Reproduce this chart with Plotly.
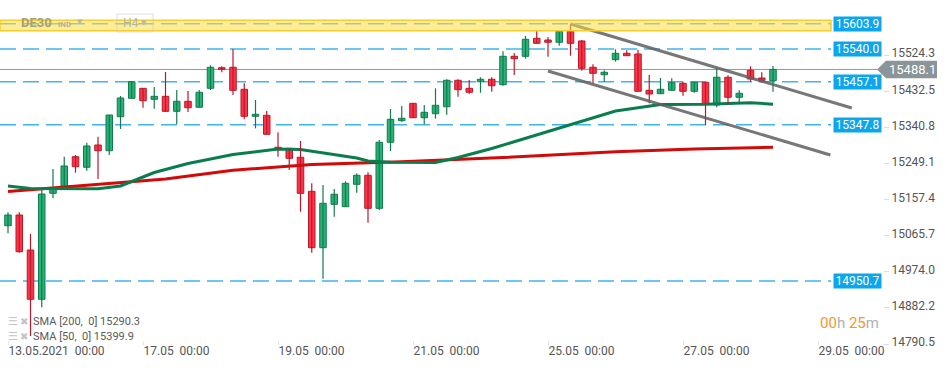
import plotly.graph_objects as go

# ---------------- data ----------------
tick_idx = [0, 12, 24, 36, 48, 60, 72]
tick_labels = ["13.05.2021  00:00", "17.05  00:00", "19.05  00:00", "21.05  00:00",
               "25.05  00:00", "27.05  00:00", "29.05  00:00"]

open_ = [15091.2, 15118.4, 15029.5, 14904.3, 15173.5, 15190.3, 15266.5, 15239.6, 15296.2, 15281.7,
         15368.1, 15414.8, 15440.2, 15412.3, 15419.9, 15381.8, 15407.2, 15392.0, 15440.2, 15492.5,
         15493.6, 15437.7, 15369.1, 15371.6, 15290.4, 15287.8, 15265.0, 15178.6, 15035.3, 15145.6,
         15139.5, 15196.4, 15219.2, 15135.4, 15303.1, 15357.9, 15402.1, 15365.5, 15375.7, 15393.5,
         15460.5, 15440.2, 15457.0, 15463.1, 15449.4, 15521.5, 15521.5, 15567.2, 15562.9, 15557.1,
         15585.0, 15560.4, 15493.6, 15474.8, 15512.9, 15529.1, 15527.3, 15435.1, 15426.5, 15435.1,
         15452.9, 15432.6, 15455.5, 15397.8, 15468.2, 15417.4, 15485.9, 15466.4, 15459.5]
high = [15125.3, 15125.3, 15070.1, 15181.9, 15235.2, 15266.5, 15270.8, 15302.0, 15317.3, 15372.4,
        15420.7, 15458.8, 15440.2, 15443.5, 15481.6, 15435.9, 15433.4, 15435.9, 15498.6, 15496.1,
        15540.0, 15452.9, 15410.5, 15382.6, 15328.5, 15287.8, 15306.4, 15198.9, 15194.6, 15184.4,
        15204.0, 15224.3, 15226.9, 15308.9, 15387.6, 15395.3, 15402.1, 15397.8, 15440.2, 15463.1,
        15463.1, 15461.3, 15468.2, 15468.2, 15534.2, 15529.9, 15573.1, 15586.5, 15570.5, 15585.0,
        15603.9, 15562.9, 15501.2, 15485.9, 15539.3, 15536.7, 15538.3, 15474.0, 15466.4, 15465.6,
        15457.0, 15457.0, 15455.5, 15491.0, 15473.2, 15435.1, 15496.1, 15480.9, 15496.9]
low = [15071.9, 15022.6, 14811.1, 14884.0, 15160.8, 15190.3, 15225.8, 15230.9, 15209.8, 15270.8,
       15336.8, 15414.8, 15390.9, 15388.4, 15380.0, 15349.5, 15380.0, 15392.0, 15435.9, 15480.9,
       15423.2, 15361.5, 15338.6, 15323.4, 15266.5, 15232.7, 15126.8, 15022.6, 14956.6, 15114.1,
       15139.5, 15175.0, 15098.8, 15131.1, 15281.0, 15355.4, 15365.5, 15348.8, 15363.0, 15373.2,
       15418.9, 15426.5, 15429.0, 15431.6, 15446.8, 15474.0, 15515.4, 15554.5, 15520.5, 15548.4,
       15523.0, 15484.9, 15453.7, 15457.0, 15507.8, 15523.0, 15432.6, 15402.1, 15426.5, 15435.1,
       15421.4, 15429.0, 15347.0, 15392.0, 15397.8, 15404.7, 15457.0, 15457.0, 15431.6]
close = [15118.4, 15025.2, 14904.3, 15171.7, 15186.2, 15242.9, 15241.1, 15293.7, 15281.7, 15372.4,
         15415.6, 15457.0, 15408.7, 15419.9, 15381.8, 15407.2, 15390.9, 15430.1, 15493.6, 15488.5,
         15435.1, 15369.1, 15374.2, 15323.4, 15285.3, 15262.4, 15173.5, 15035.3, 15148.1, 15171.0,
         15198.9, 15219.2, 15135.4, 15303.1, 15361.5, 15364.0, 15365.5, 15379.3, 15397.0, 15460.5,
         15436.7, 15430.1, 15463.1, 15446.8, 15521.5, 15515.4, 15564.7, 15554.5, 15557.1, 15585.0,
         15554.5, 15491.0, 15478.3, 15480.9, 15529.1, 15523.0, 15432.6, 15425.7, 15437.7, 15454.4,
         15432.6, 15455.5, 15399.6, 15468.2, 15417.4, 15427.5, 15463.8, 15460.5, 15488.1]

sma200_x = [0, 8, 14, 20, 27, 35, 44, 54, 61, 68]
sma200_y = [15178.1, 15197.1, 15209.8, 15231.9, 15246.7, 15253.8, 15264.4, 15278.9, 15286.0, 15290.3]
sma50_x = [0, 2, 8, 10, 13, 16, 20, 24, 26, 28, 31, 32, 34, 38, 40, 43, 47, 50, 54, 58, 62, 66, 68]
sma50_y = [15192.1, 15185.7, 15185.2, 15192.1, 15226.3, 15249.2, 15272.1, 15286.0, 15284.8, 15275.9,
           15263.2, 15255.6, 15252.3, 15251.7, 15264.4, 15287.3, 15321.6, 15348.3, 15382.6, 15399.1,
           15399.6, 15403.6, 15399.9]

channel_upper_x = [50, 75]
channel_upper_y = [15603.5, 15390.1]
channel_lower_x = [48, 73.1]
channel_lower_y = [15484.1, 15270.8]

price_ticks = [15524.3, 15432.5, 15340.8, 15249.1, 15157.4, 15065.7, 14974.0, 14882.2, 14790.5]
levels = [15603.9, 15540.0, 15457.1, 15347.8, 14950.7]
zone = [15586.6, 15612.9]
last_price = 15488.1
sma_legend = [("SMA [200,  0]", 15290.3), ("SMA [50,  0]", 15399.9)]

# ---------------- geometry / style ----------------
W, H = 950, 368
PR, PB = 883, 345            # plot area right / bottom in px
Y_RANGE = [14788.2, 15664.5]
X_RANGE = [-8 / 11.25, 875 / 11.25]
FONT = "Roboto"
UP_FILL, UP_LINE = "#27B277", "#137A4D"
DN_FILL, DN_LINE = "#FF3347", "#B8192A"
BLUE = "#3FB4EF"
LBL_BLUE = "#0BA6EE"


def px(x):
    return x / PR


def py(y):
    return 1 - y / PB


n = len(open_)
idx = list(range(n))
up = [close[i] >= open_[i] for i in idx]

fig = go.Figure()

# SMA lines
fig.add_trace(go.Scatter(x=sma200_x, y=sma200_y, mode="lines",
                         line=dict(color="#D10A0A", width=3), hoverinfo="skip"))
fig.add_trace(go.Scatter(x=sma50_x, y=sma50_y, mode="lines",
                         line=dict(color="#0A7D4E", width=3), hoverinfo="skip"))

# wicks
for is_up, col in ((True, UP_LINE), (False, DN_LINE)):
    wx, wy = [], []
    for i in idx:
        if up[i] == is_up:
            wx += [i, i, None]
            wy += [low[i], high[i], None]
    fig.add_trace(go.Scatter(x=wx, y=wy, mode="lines", line=dict(color=col, width=1.2),
                             hoverinfo="skip"))

# bodies
fig.add_trace(go.Bar(
    x=idx,
    y=[abs(close[i] - open_[i]) for i in idx],
    base=[min(close[i], open_[i]) for i in idx],
    width=0.58,
    marker=dict(color=[UP_FILL if u else DN_FILL for u in up],
                line=dict(color=[UP_LINE if u else DN_LINE for u in up], width=1)),
    hoverinfo="skip"))

# channel lines
for cx, cy in ((channel_upper_x, channel_upper_y), (channel_lower_x, channel_lower_y)):
    fig.add_trace(go.Scatter(x=cx, y=cy, mode="lines",
                             line=dict(color="rgba(95,95,95,0.85)", width=3), hoverinfo="skip"))

shapes = []
# last price line
shapes.append(dict(type="line", xref="paper", yref="y", x0=0, x1=px(877), y0=last_price, y1=last_price,
                   line=dict(color="#8E979B", width=1), layer="below"))
# level lines
for k, lv in enumerate(levels):
    shapes.append(dict(type="line", xref="paper", yref="y", x0=0, x1=px(831), y0=lv, y1=lv,
                       line=dict(color=BLUE, width=1.5, dash="16px,7px"),
                       layer="above" if k == 0 else "below"))
# yellow zone
shapes.append(dict(type="rect", xref="paper", yref="y", x0=0, x1=px(831), y0=zone[0], y1=zone[1],
                   fillcolor="rgba(255,221,70,0.55)", line=dict(color="#F6CE2C", width=1.5),
                   layer="above"))
# H4 box
shapes.append(dict(type="rect", xref="paper", yref="paper", x0=px(117), x1=px(153), y0=py(32), y1=py(14),
                   line=dict(color="rgba(200,200,190,0.6)", width=1), fillcolor="rgba(0,0,0,0)",
                   layer="above"))
# last price arrow label
shapes.append(dict(type="path", xref="paper", yref="y", xsizemode="pixel", ysizemode="pixel",
                   xanchor=1, yanchor=last_price,
                   path="M -6 0 L 3 8.7 L 54 8.7 L 54 -8.7 L 3 -8.7 Z",
                   fillcolor="#8A9499", line=dict(width=0), layer="above"))

ann = []
for lv in levels:
    ann.append(dict(xref="paper", yref="y", x=px(832.7), y=lv, xanchor="left", yanchor="middle",
                    text=f"{lv:.1f}", showarrow=False, bgcolor=LBL_BLUE, width=44, height=11,
                    borderpad=1.5, font=dict(family=FONT, size=12, color="white")))
ann.append(dict(xref="paper", yref="y", x=px(912), y=last_price, xanchor="center", yanchor="middle",
                text=f"{last_price:.1f}", showarrow=False,
                font=dict(family=FONT, size=13, color="white")))
# top-left instrument
ann.append(dict(xref="paper", yref="paper", x=px(19), y=py(23), xanchor="left", yanchor="middle",
                text="<b>DE30</b>", showarrow=False, font=dict(family=FONT, size=13, color="#A3A274")))
ann.append(dict(xref="paper", yref="paper", x=px(56), y=py(24), xanchor="left", yanchor="middle",
                text="<b>IND</b>", showarrow=False, font=dict(family=FONT, size=8, color="#B3B294")))
ann.append(dict(xref="paper", yref="paper", x=px(80), y=py(22), xanchor="center", yanchor="middle",
                text="▼", showarrow=False, font=dict(family="DejaVu Sans", size=7, color="#B8B79C")))
ann.append(dict(xref="paper", yref="paper", x=px(121), y=py(23), xanchor="left", yanchor="middle",
                text="H4", showarrow=False, font=dict(family=FONT, size=12, color="#B3B3A3")))
ann.append(dict(xref="paper", yref="paper", x=px(144), y=py(23), xanchor="center", yanchor="middle",
                text="▼", showarrow=False, font=dict(family="DejaVu Sans", size=7, color="#B8B8A8")))
# SMA legend
for k, (name, val) in enumerate(sma_legend):
    yy = 321 + 15 * k
    ann.append(dict(xref="paper", yref="paper", x=px(6), y=py(yy), xanchor="left", yanchor="middle",
                    text="☰", showarrow=False, font=dict(family="DejaVu Sans", size=11, color="#C4C4C4")))
    ann.append(dict(xref="paper", yref="paper", x=px(18), y=py(yy), xanchor="left", yanchor="middle",
                    text="✖", showarrow=False, font=dict(family="DejaVu Sans", size=10, color="#C4C4C4")))
    ann.append(dict(xref="paper", yref="paper", x=px(31), y=py(yy), xanchor="left", yanchor="middle",
                    text=name.replace(" ", "\u00a0") + "\u00a0" + f"{val:.1f}", showarrow=False,
                    font=dict(family=FONT, size=11, color="#5A5A5A")))
# countdown
ann.append(dict(xref="paper", yref="paper", x=px(881), y=py(323), xanchor="right", yanchor="middle",
                text="<span style='color:#F7961E'>00</span><span style='color:#B0B0B0'>h</span> "
                     "<span style='color:#F7961E'>25</span><span style='color:#B0B0B0'>m</span>",
                showarrow=False, font=dict(family=FONT, size=15)))

fig.update_layout(
    width=W, height=H,
    margin=dict(l=0, r=W - PR, t=0, b=H - PB, autoexpand=False),
    paper_bgcolor="white", plot_bgcolor="white",
    showlegend=False, barmode="overlay", hovermode=False,
    shapes=shapes, annotations=ann,
    font=dict(family=FONT, size=12, color="#555555"),
    xaxis=dict(range=X_RANGE, showgrid=False, zeroline=False, showline=False,
               tickmode="array", tickvals=tick_idx,
               ticktext=[t.replace(" ", "\u00a0") for t in tick_labels],
               ticks="inside", ticklen=4, tickcolor="#E6E6E6",
               ticklabelposition="outside right", ticklabelstandoff=-3,
               tickfont=dict(family=FONT, size=12, color="#555555")),
    yaxis=dict(range=Y_RANGE, side="right", showgrid=False, zeroline=False, showline=False,
               tickmode="array", tickvals=price_ticks, ticktext=[f"{v:.1f}" for v in price_ticks],
               ticks="outside", ticklen=5, tickcolor="#DDDDDD", ticklabelshift=-2,
               tickfont=dict(family=FONT, size=12, color="#555555")),
)

fig.write_html("out.html", config={"displayModeBar": False},
               post_script="document.body.style.margin='0px';document.body.style.overflow='hidden';")
